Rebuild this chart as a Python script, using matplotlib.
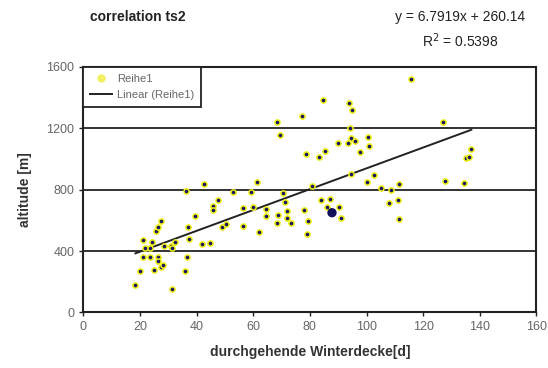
import matplotlib
matplotlib.use("Agg")
import matplotlib.pyplot as plt
from matplotlib.lines import Line2D
import numpy as np

plt.rcParams['font.family'] = ['Liberation Sans', 'DejaVu Sans']

winterdecke = [18.4, 19.9, 21.2, 21.2, 21.8, 23.5, 23.5, 24.2, 25.1, 25.7,
               26.4, 26.5, 26.5, 27.3, 27.4, 28.0, 28.6, 30.9, 31.3, 32.4,
               31.2, 36.0, 36.7, 36.1, 37.1, 37.4, 39.3, 41.9, 42.7, 44.7,
               45.7, 45.7, 47.7, 49.0, 50.4, 52.9, 56.3, 56.3, 59.1, 60.0,
               61.4, 62.1, 64.4, 64.6, 68.3, 69.4, 68.4, 68.7, 70.6, 71.3,
               71.9, 72.0, 73.4, 77.1, 77.9, 78.6, 79.3, 78.9, 80.6, 83.1,
               84.0, 84.7, 85.2, 85.9, 87.1, 90.0, 90.4, 91.1, 93.3, 93.7,
               94.1, 94.4, 94.4, 94.7, 96.0, 97.7, 100.2, 100.6, 101.0, 102.6,
               105.0, 108.0, 108.5, 111.0, 111.3, 111.5, 115.7, 127.1, 127.8, 134.4,
               135.1, 136.3, 137.0]
altitude = [178, 269, 363, 472, 418, 418, 363, 459, 276, 532,
            559, 359, 335, 294, 598, 311, 435, 433, 420, 459,
            152, 269, 363, 793, 555, 478, 626, 446, 835, 454,
            694, 668, 733, 557, 576, 785, 679, 563, 785, 685,
            848, 524, 672, 626, 1240, 1155, 583, 633, 776, 720,
            663, 617, 585, 1281, 666, 1033, 598, 509, 824, 1015,
            733, 1383, 1050, 685, 739, 1103, 685, 615, 1103, 1364,
            1205, 1135, 902, 1320, 1118, 1048, 852, 1144, 1087, 896,
            813, 715, 798, 733, 609, 835, 1522, 1240, 855, 842,
            1007, 1011, 1068]
highlight_x = [87.8]
highlight_y = [650]

slope = 6.7919
intercept = 260.14
r2 = 0.5398

x_ticks = [0, 20, 40, 60, 80, 100, 120, 140, 160]
y_ticks = [0, 400, 800, 1200, 1600]

fig = plt.figure(figsize=(5.48, 3.68), dpi=100)
ax = fig.add_axes([0.152, 0.151, 0.827, 0.667])

ax.set_xlim(0, 160)
ax.set_ylim(0, 1600)
ax.set_xticks(x_ticks)
ax.set_yticks(y_ticks)
for yv in y_ticks[1:-1]:
    ax.axhline(yv, color='#333333', lw=1.4, zorder=1)

ax.scatter(winterdecke, altitude, s=14, c='#1a1a5e', edgecolors='#f2f21a',
           linewidths=1.1, zorder=3)
ax.scatter(highlight_x, highlight_y, s=45, c='#10105a', edgecolors='none', zorder=4)

xs = np.array([min(winterdecke), max(winterdecke)])
ax.plot(xs, slope * xs + intercept, color='#222222', lw=1.4, zorder=2)

for sp in ax.spines.values():
    sp.set_linewidth(1.5)
    sp.set_color('#222222')

ax.tick_params(axis='both', labelsize=9, colors='#222222', labelcolor='#666666',
               length=3, width=1)
ax.set_xlabel('durchgehende Winterdecke[d]', fontsize=10, fontweight='bold',
              color='#333333', labelpad=8)
ax.set_ylabel('altitude [m]', fontsize=10, fontweight='bold', color='#333333',
              labelpad=10)

handles = [Line2D([], [], marker='o', color='none', markerfacecolor='#f0f060',
                  markeredgecolor='none', markersize=6),
           Line2D([], [], color='#222222', lw=1.4)]
leg = ax.legend(handles, ['Reihe1', 'Linear (Reihe1)'], loc='upper left',
                bbox_to_anchor=(0, 1), borderaxespad=0, fontsize=8,
                fancybox=False, framealpha=1, edgecolor='#222222',
                handlelength=2.0, handletextpad=0.4, borderpad=0.6,
                labelspacing=0.6)
leg.get_frame().set_linewidth(1.3)
for t in leg.get_texts():
    t.set_color('#666666')

fig.text(0.165, 0.953, 'correlation ts2', fontsize=10, fontweight='bold',
         color='#222222', va='center')
fig.text(0.84, 0.953, 'y = 6.7919x + 260.14', fontsize=10, color='#222222',
         ha='center', va='center')
fig.text(0.84, 0.89, 'R$^{2}$ = 0.5398', fontsize=10, color='#222222',
         ha='center', va='center')

fig.savefig('out.png', dpi=100)
